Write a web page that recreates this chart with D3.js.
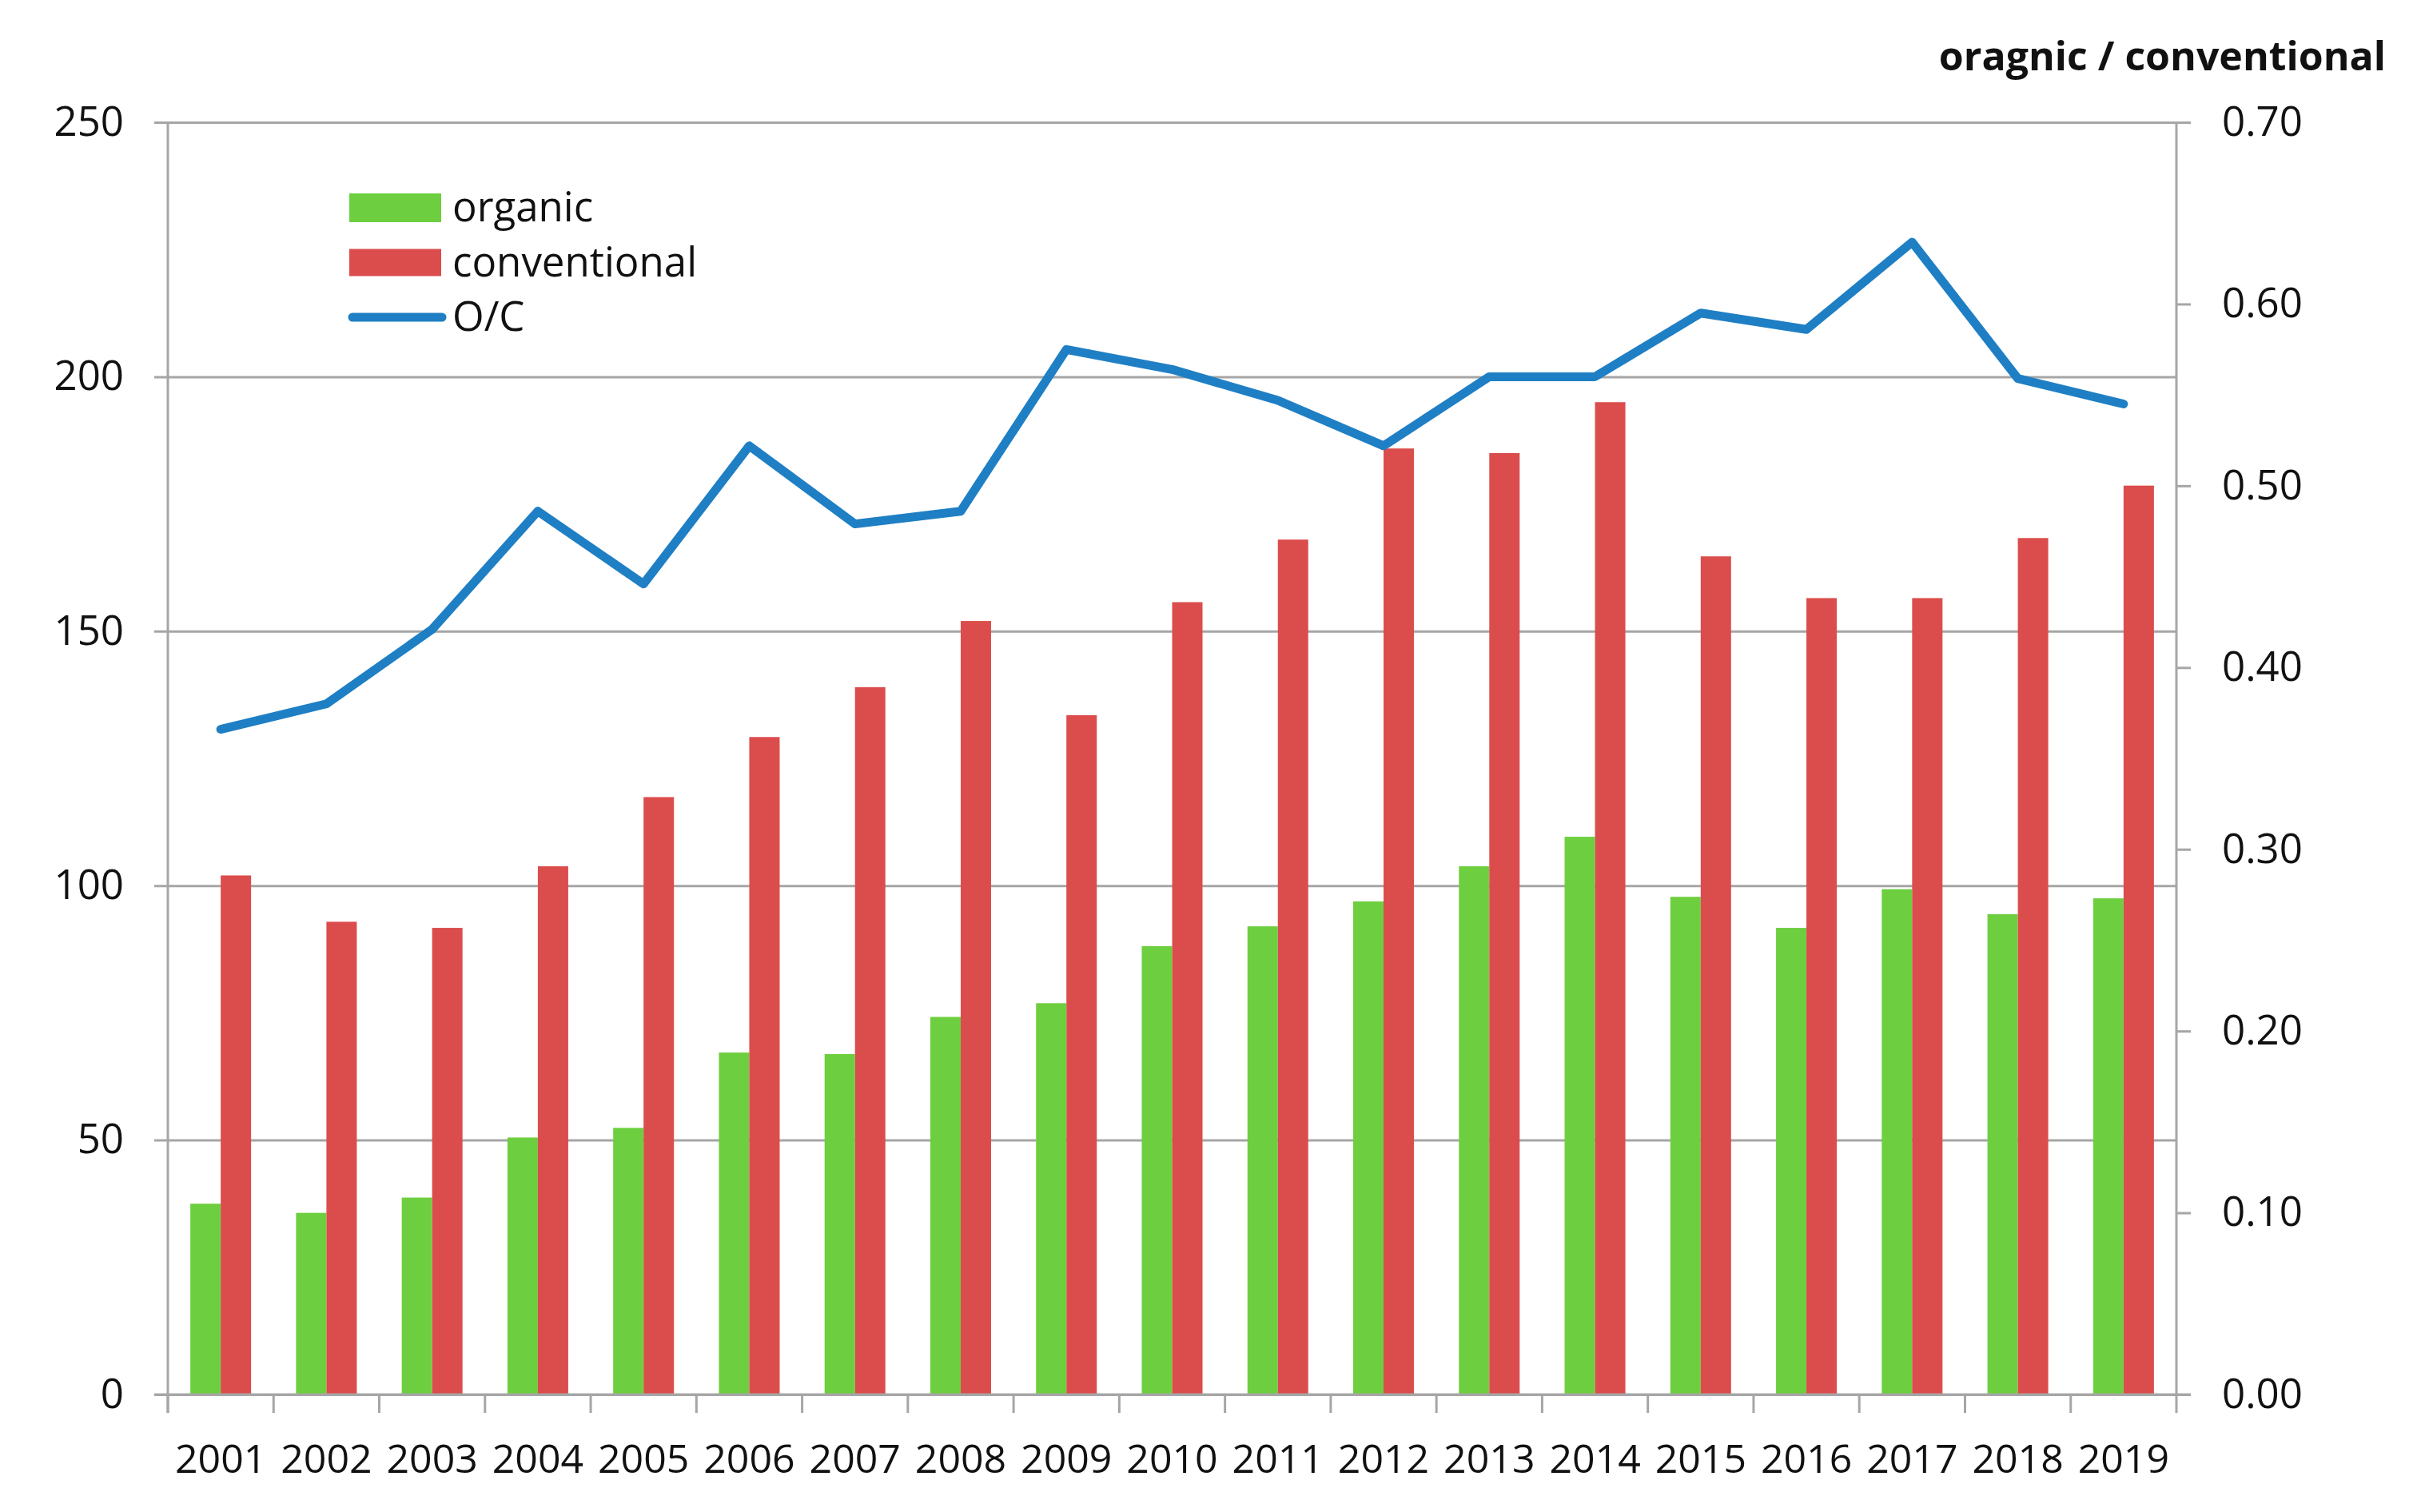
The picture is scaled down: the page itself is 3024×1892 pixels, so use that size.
<!DOCTYPE html>
<html>
<head>
<meta charset="utf-8">
<script src="https://cdn.jsdelivr.net/npm/d3@7"></script>
<style>
  html, body { margin: 0; padding: 0; background: #fff; overflow: hidden; }
  svg { display: block; width: 100vw; height: 100vh; }
  text { font-family: "Open Sans", "Noto Sans", sans-serif; fill: #111; }
</style>
</head>
<body>
<svg id="chart"></svg>
<script>
// data
const years = ['2001', '2002', '2003', '2004', '2005', '2006', '2007', '2008', '2009', '2010',
  '2011', '2012', '2013', '2014', '2015', '2016', '2017', '2018', '2019'];
const organic = [37.5, 35.7, 38.7, 50.5, 52.4, 67.2, 66.9, 74.2, 76.9, 88.1,
  92.0, 96.9, 103.8, 109.6, 97.8, 91.7, 99.3, 94.4, 97.5];
const conventional = [102.0, 92.9, 91.7, 103.8, 117.4, 129.2, 139.0, 152.0, 133.5, 155.7,
  168.0, 185.9, 185.0, 195.0, 164.7, 156.5, 156.5, 168.3, 178.6];
const ratio = [0.366, 0.380, 0.421, 0.486, 0.446, 0.522, 0.479, 0.486, 0.575, 0.564,
  0.547, 0.522, 0.560, 0.560, 0.595, 0.586, 0.634, 0.559, 0.545];
const leftTicks = [0, 50, 100, 150, 200, 250];
const rightTicks = [0, 0.1, 0.2, 0.3, 0.4, 0.5, 0.6, 0.7];
const seriesNames = ['organic', 'conventional'];

// set up constants
const width = 3024;
const height = 1892;
const margin = { top: 153, right: 301, bottom: 147, left: 210 };
const innerWidth = width - margin.left - margin.right;
const innerHeight = height - margin.top - margin.bottom;
const gridColor = '#a6a6a6';
const fontSize = 51;
const colors = { organic: '#6dcf3f', conventional: '#db4d4c', ratio: '#1f7fc4' };

// svg scales with the window so nothing is clipped at other sizes
const svg = d3.select('#chart')
  .attr('viewBox', `0 0 ${width} ${height}`)
  .attr('preserveAspectRatio', 'xMidYMid meet');

const g = svg.append('g')
  .attr('transform', `translate(${margin.left}, ${margin.top})`);

// scales
const xScale = d3.scaleBand()
  .domain(years)
  .range([0, innerWidth])
  .paddingInner(0)
  .paddingOuter(0);

const xInner = d3.scaleBand()
  .domain(seriesNames)
  .range([0, xScale.bandwidth()])
  .paddingInner(0)
  .paddingOuter(0.74);

const yScale = d3.scaleLinear()
  .domain([0, 250])
  .range([innerHeight, 0]);

const yRight = d3.scaleLinear()
  .domain([0, 0.7])
  .range([innerHeight, 0]);

// left axis with gridlines
const yAxis = d3.axisLeft(yScale)
  .tickValues(leftTicks)
  .tickSize(17)
  .tickPadding(38);

const gy = g.append('g').call(yAxis);
gy.select('.domain').remove();
gy.selectAll('.tick line')
  .attr('x2', -17)
  .attr('x1', innerWidth)
  .attr('stroke', gridColor)
  .attr('stroke-width', 3);
gy.selectAll('.tick text')
  .attr('font-size', fontSize)
  .attr('font-family', '"Open Sans", sans-serif')
  .attr('fill', '#111');

// right axis
const yAxisRight = d3.axisRight(yRight)
  .tickValues(rightTicks)
  .tickFormat(d3.format('.2f'))
  .tickSize(18)
  .tickPadding(39);

const gyr = g.append('g')
  .attr('transform', `translate(${innerWidth}, 0)`)
  .call(yAxisRight);
gyr.select('.domain').remove();
gyr.selectAll('.tick line')
  .attr('stroke', gridColor)
  .attr('stroke-width', 3);
gyr.selectAll('.tick text')
  .attr('font-size', fontSize)
  .attr('font-family', '"Open Sans", sans-serif')
  .attr('fill', '#111');

// vertical axis lines
g.append('line')
  .attr('x1', 0).attr('x2', 0)
  .attr('y1', 0).attr('y2', innerHeight + 23)
  .attr('stroke', gridColor).attr('stroke-width', 3);
g.append('line')
  .attr('x1', innerWidth).attr('x2', innerWidth)
  .attr('y1', 0).attr('y2', innerHeight + 23)
  .attr('stroke', gridColor).attr('stroke-width', 3);

// bottom axis: labels
const xAxis = d3.axisBottom(xScale)
  .tickSize(0)
  .tickPadding(62);

const gx = g.append('g')
  .attr('transform', `translate(0, ${innerHeight})`)
  .call(xAxis);
gx.select('.domain').remove();
gx.selectAll('.tick text')
  .attr('font-size', 50)
  .attr('font-family', '"Open Sans", sans-serif')
  .attr('fill', '#111');

// bottom axis: ticks between categories
g.append('g')
  .selectAll('line')
  .data(years)
  .enter()
  .append('line')
  .attr('x1', d => xScale(d))
  .attr('x2', d => xScale(d))
  .attr('y1', innerHeight)
  .attr('y2', innerHeight + 23)
  .attr('stroke', gridColor)
  .attr('stroke-width', 3);

// bars
const rows = years.map((year, i) => ({ year, organic: organic[i], conventional: conventional[i] }));

g.append('g')
  .selectAll('g')
  .data(rows)
  .enter()
  .append('g')
  .attr('transform', d => `translate(${xScale(d.year)}, 0)`)
  .selectAll('rect')
  .data(d => seriesNames.map(key => ({ key, value: d[key] })))
  .enter()
  .append('rect')
  .attr('x', d => xInner(d.key))
  .attr('y', d => yScale(d.value))
  .attr('width', xInner.bandwidth())
  .attr('height', d => innerHeight - yScale(d.value))
  .attr('fill', d => colors[d.key]);

// redraw the zero line on top of the bars
g.append('line')
  .attr('x1', -17).attr('x2', innerWidth + 18)
  .attr('y1', innerHeight).attr('y2', innerHeight)
  .attr('stroke', gridColor).attr('stroke-width', 3);

// ratio line
const line = d3.line()
  .x((d, i) => xScale(years[i]) + xScale.bandwidth() / 2)
  .y(d => yRight(d));

g.append('path')
  .datum(ratio)
  .attr('d', line)
  .attr('fill', 'none')
  .attr('stroke', colors.ratio)
  .attr('stroke-width', 11)
  .attr('stroke-linejoin', 'round')
  .attr('stroke-linecap', 'round');

// legend
const legend = svg.append('g')
  .attr('transform', 'translate(437, 260)');
const rowGap = 68.5;

legend.append('rect')
  .attr('x', 0).attr('y', -18)
  .attr('width', 115).attr('height', 36)
  .attr('fill', colors.organic);
legend.append('rect')
  .attr('x', 0).attr('y', rowGap - 17)
  .attr('width', 115).attr('height', 34)
  .attr('fill', colors.conventional);
legend.append('line')
  .attr('x1', 4).attr('x2', 116)
  .attr('y1', rowGap * 2).attr('y2', rowGap * 2)
  .attr('stroke', colors.ratio)
  .attr('stroke-width', 11)
  .attr('stroke-linecap', 'round');

legend.selectAll('text')
  .data(['organic', 'conventional', 'O/C'])
  .enter()
  .append('text')
  .attr('x', 129)
  .attr('y', (d, i) => i * rowGap + 17)
  .attr('font-size', fontSize)
  .text(d => d);

// right axis title
svg.append('text')
  .attr('x', 2985)
  .attr('y', 88)
  .attr('text-anchor', 'end')
  .attr('font-size', 50)
  .attr('font-weight', 'bold')
  .text('oragnic / conventional');
</script>
</body>
</html>
